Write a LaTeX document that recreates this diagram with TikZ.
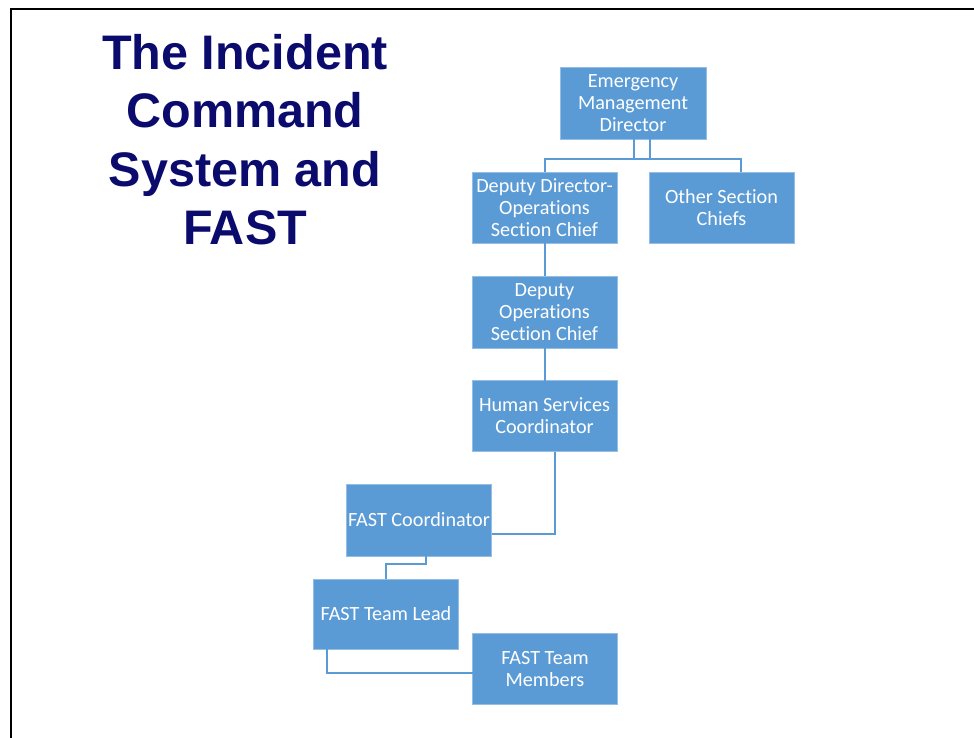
\documentclass[tikz,border=0pt]{standalone}
\usepackage{fontspec}
\setmainfont{Carlito}[Ligatures=NoCommon]
\newfontfamily\titlefont{Liberation Sans}
\definecolor{boxblue}{HTML}{5B9BD5}
\definecolor{linkblue}{HTML}{5B9BD5}
\definecolor{titlenavy}{HTML}{0B0B6E}
\begin{document}
\begin{tikzpicture}[x=1pt, y=-1pt,
  orgbox/.style={rectangle, fill=boxblue, draw=white!35!boxblue, line width=0.8pt,
    text=white, align=center, inner sep=0pt, outer sep=0pt,
    minimum width=145pt, minimum height=71pt,
    font=\fontsize{20.2}{22}\selectfont},
  link/.style={draw=linkblue, line width=2pt}]
  \useasboundingbox (0,0) rectangle (974,738);
  \clip (0,0) rectangle (974,738);
  % slide frame, cut off at the right and bottom
  \draw[line width=2.6pt] (11,9) rectangle (1000,760);

  % title
  \node[anchor=north, align=center, text=titlenavy, inner sep=0pt,
        font=\titlefont\bfseries\fontsize{48.5}{58.5}\selectfont] (title) at (245,34)
    {The Incident\\Command\\System and\\FAST};

  % organisation boxes
  \node[orgbox, minimum width=146pt, minimum height=72pt] (emd) at (633,103) {Emergency\\Management\\Director};
  \node[orgbox] (dd)    at (544.5,207.5) {Deputy Director-\\Operations\\Section Chief};
  \node[orgbox] (other) at (721.5,207.5) {Other Section\\Chiefs};
  \node[orgbox, minimum height=72pt] (dosc) at (544.5,312) {Deputy\\Operations\\Section Chief};
  \node[orgbox] (hsc)   at (544.5,416) {Human Services\\Coordinator};
  \node[orgbox, minimum height=72pt] (fc) at (419,520) {FAST Coordinator};
  \node[orgbox, minimum height=70pt] (tl) at (386,614) {FAST Team Lead};
  \node[orgbox] (tm)    at (545,669) {FAST Team\\Members};

  % connectors
  \draw[link] ([xshift=17pt]emd.south) -- ++(0,20) -| (dd.north);
  \draw[link] ([xshift=1pt]emd.south) -- ++(0,20) -| ([xshift=19.5pt]other.north);
  \draw[link] (dd) -- (dosc);
  \draw[link] (dosc) -- (hsc);
  \draw[link] ([xshift=10.5pt]hsc.south) |- ([yshift=-14pt]fc.east);
  \draw[link] ([xshift=7pt]fc.south) -- ++(0,7.5) -| (tl.north);
  \draw[link] ([xshift=-59pt]tl.south) |- ([yshift=-4pt]tm.west);
\end{tikzpicture}
\end{document}
